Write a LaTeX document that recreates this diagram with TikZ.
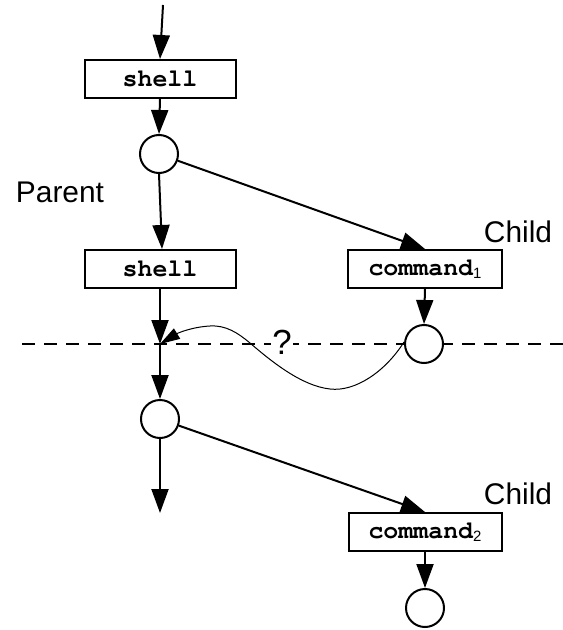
\documentclass[tikz,border=0pt]{standalone}
\usepackage{fontspec}
\setmainfont{Liberation Sans}
\newfontfamily\codefont{TeX Gyre Cursor}
\usetikzlibrary{arrows.meta}
\tikzset{
  arr/.style={line width=2bp, -{Triangle[length=24bp,width=17bp]}},
  thinarr/.style={line width=1bp, -{Triangle[length=20bp,width=12bp]}},
  codebox/.style={draw, fill=white, line width=2bp, minimum height=38bp, inner sep=0pt,
    font=\codefont\bfseries\fontsize{25}{28}\selectfont},
  junction/.style={draw, fill=white, circle, line width=2bp, minimum size=38bp, inner sep=0pt},
  lbl/.style={font=\fontsize{30}{34}\selectfont, inner sep=0pt},
  sep/.style={line width=1.7bp, dash pattern=on 13bp off 9bp}
}
\newcommand{\subn}[1]{\raisebox{-0.25ex}{\rmfamily\mdseries\fontsize{15}{16}\selectfont #1}}
\begin{document}
\begin{tikzpicture}[x=1bp, y=-1bp]
\useasboundingbox (0,0) rectangle (563,630);
% dashed separator (behind the nodes)
\coordinate (dl) at (22,344);
\coordinate (dr) at (563,344);
\draw[sep] (dl) -- (dr);
% nodes
\coordinate (top) at (163,5);
\node[codebox, minimum width=151bp] (s1) at (160,79) {shell};
\node[junction] (c1) at (159,154) {};
\node[lbl] (parent) at (60,192) {Parent};
\node[codebox, minimum width=151bp] (s2) at (160,269) {shell};
\node[codebox, minimum width=154bp] (k1) at (425,269) {command\subn{1}};
\node[lbl] (child1) at (518,232) {Child};
\node[junction] (c2) at (424,344) {};
\coordinate (j) at (160,344);
\node[junction] (c3) at (160,419) {};
\coordinate (bot) at (160,513);
\node[lbl] (child2) at (518,494) {Child};
\node[codebox, minimum width=153bp] (k2) at (425,532) {command\subn{2}};
\node[junction] (c4) at (425,608) {};
% connectors
\draw[arr] (top) -- (s1.north);
\draw[arr] (s1.south) -- (c1.north);
\draw[arr] (c1.south) -- ([xshift=2bp]s2.north);
\draw[arr] (c1) -- (k1.north);
\draw[arr] (k1.south) -- (c2.north);
\draw[arr] (s2.south) -- (j);
\draw[arr] (j) -- (c3.north);
\draw[arr] (c3.south) -- (bot);
\draw[arr] (c3) -- (k2.north);
\draw[arr] (k2.south) -- (c4.north);
\draw[thinarr] ([yshift=2bp]c2.west) .. controls (385,372) and (355,392) .. (330,389)
  .. controls (302,386) and (272,362) .. (250,343)
  .. controls (238,333) and (226,325) .. (210,326)
  .. controls (192,327) and (178,333) .. (j);
\node[font=\fontsize{35}{38}\selectfont, fill=white, inner sep=1.5pt] (q) at (282,342) {?};
\end{tikzpicture}
\end{document}
